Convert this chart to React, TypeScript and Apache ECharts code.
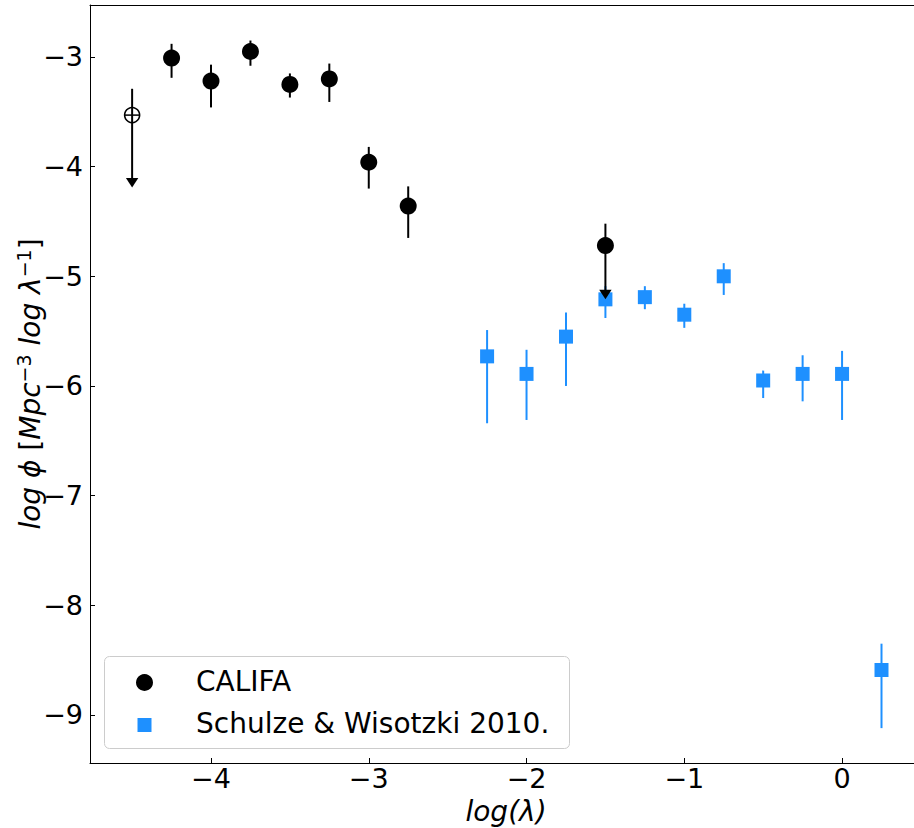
import React, { useEffect, useRef } from "react";
import * as echarts from "echarts";

// CALIFA (detections)
const califaX = [-4.25, -4.0, -3.75, -3.5, -3.25, -3.0, -2.75];
const califaY = [-3.01, -3.22, -2.95, -3.25, -3.2, -3.96, -4.36];
const califaHi = [-2.88, -3.07, -2.85, -3.15, -3.06, -3.82, -4.18];
const califaLo = [-3.19, -3.46, -3.08, -3.37, -3.41, -4.2, -4.65];

// CALIFA upper limits
const limitX = [-4.5, -1.5];
const limitY = [-3.53, -4.72];
const limitTop = [-3.29, -4.52];
const limitTip = [-4.19, -5.21];
const limitOpen = [true, false];

// Schulze & Wisotzki 2010
const swX = [-2.25, -2.0, -1.75, -1.5, -1.25, -1.0, -0.75, -0.5, -0.25, 0.0, 0.25];
const swY = [-5.73, -5.89, -5.55, -5.21, -5.19, -5.35, -5.0, -5.95, -5.89, -5.89, -8.59];
const swHi = [-5.49, -5.67, -5.33, -5.09, -5.09, -5.25, -4.88, -5.86, -5.72, -5.68, -8.35];
const swLo = [-6.34, -6.31, -6.0, -5.38, -5.3, -5.47, -5.17, -6.11, -6.14, -6.31, -9.12];

const xTicks = [-4, -3, -2, -1, 0];
const yTicks = [-9, -8, -7, -6, -5, -4, -3];

const BLUE = "#1e90ff";
const FONT = "DejaVu Sans";

const fmt = (v: number) => (v < 0 ? "\u2212" + Math.abs(v) : String(v));

function errRender(color: string) {
  return (params: any, api: any) => {
    const x = api.value(0);
    const p1 = api.coord([x, api.value(1)]);
    const p2 = api.coord([x, api.value(2)]);
    return {
      type: "line",
      shape: { x1: p1[0], y1: p1[1], x2: p2[0], y2: p2[1] },
      style: { stroke: color, lineWidth: 2 },
    };
  };
}

export default function App() {
  const ref = useRef<HTMLDivElement>(null);
  useEffect(() => {
    if (!ref.current) return;
    const chart = echarts.init(ref.current, undefined, { renderer: "svg" });
    const X_MIN = -4.767;
    const X_MAX = 0.456;
    const option: any = {
      animation: false,
      backgroundColor: "#fff",
      grid: {
        left: 90,
        top: 5,
        right: 0,
        bottom: 65,
        show: false,
      },
      xAxis: [
        {
          type: "value",
          min: X_MIN,
          max: X_MAX,
          splitLine: { show: false },
          axisLine: { show: true, onZero: false, lineStyle: { color: "#000", width: 1 } },
          axisTick: { show: true, inside: true, length: 5, lineStyle: { color: "#000" }, customValues: xTicks },
          axisLabel: {
            customValues: xTicks,
            formatter: fmt,
            fontSize: 27,
            fontFamily: FONT,
            color: "#000",
            margin: 2,
          },
        },
        {
          type: "value",
          position: "top",
          min: X_MIN,
          max: X_MAX,
          splitLine: { show: false },
          axisLine: { show: true, onZero: false, lineStyle: { color: "#000", width: 1 } },
          axisTick: { show: false },
          axisLabel: { show: false },
        },
      ],
      yAxis: {
        type: "value",
        min: -9.438,
        max: -2.526,
        splitLine: { show: false },
        axisLine: { show: true, onZero: false, lineStyle: { color: "#000", width: 1 } },
        axisTick: { show: true, inside: true, length: 5, lineStyle: { color: "#000" }, customValues: yTicks },
        axisLabel: {
          customValues: yTicks,
          formatter: fmt,
          fontSize: 27,
          fontFamily: FONT,
          color: "#000",
          margin: 7,
        },
      },
      series: [
        {
          type: "custom",
          name: "sw-err",
          z: 2,
          renderItem: errRender(BLUE),
          encode: { x: 0, y: [1, 2] },
          data: swX.map((x, i) => [x, swHi[i], swLo[i]]),
        },
        {
          type: "scatter",
          name: "Schulze & Wisotzki 2010.",
          z: 3,
          symbol: "rect",
          symbolSize: 14,
          itemStyle: { color: BLUE, opacity: 1 },
          data: swX.map((x, i) => [x, swY[i]]),
        },
        {
          type: "custom",
          name: "califa-err",
          z: 4,
          renderItem: errRender("#000"),
          encode: { x: 0, y: [1, 2] },
          data: califaX.map((x, i) => [x, califaHi[i], califaLo[i]]),
        },
        {
          type: "custom",
          name: "califa-limits",
          z: 4,
          encode: { x: 0, y: [1, 2, 3] },
          data: limitX.map((x, i) => [x, limitTop[i], limitTip[i], limitY[i], limitOpen[i] ? 1 : 0]),
          renderItem: (params: any, api: any) => {
            const x = api.value(0);
            const top = api.coord([x, api.value(1)]);
            const tip = api.coord([x, api.value(2)]);
            const mid = api.coord([x, api.value(3)]);
            const open = api.value(4) === 1;
            const children: any[] = [
              {
                type: "line",
                shape: { x1: top[0], y1: top[1], x2: tip[0], y2: tip[1] - 8 },
                style: { stroke: "#000", lineWidth: 2 },
              },
              {
                type: "polygon",
                shape: {
                  points: [
                    [tip[0] - 6.2, tip[1] - 9.5],
                    [tip[0] + 6.2, tip[1] - 9.5],
                    [tip[0], tip[1]],
                  ],
                },
                style: { fill: "#000" },
              },
            ];
            if (open) {
              children.push({
                type: "line",
                shape: { x1: mid[0] - 7.5, y1: mid[1], x2: mid[0] + 7.5, y2: mid[1] },
                style: { stroke: "#000", lineWidth: 1.5 },
              });
            }
            return { type: "group", children };
          },
        },
        {
          type: "scatter",
          name: "CALIFA",
          z: 5,
          symbol: "circle",
          symbolSize: 17,
          itemStyle: { color: "#000", opacity: 1 },
          data: califaX.map((x, i) => [x, califaY[i]]),
        },
        {
          type: "scatter",
          name: "CALIFA limits",
          z: 5,
          symbol: "circle",
          itemStyle: { opacity: 1 },
          data: limitX.map((x, i) =>
            limitOpen[i]
              ? {
                  value: [x, limitY[i]],
                  symbolSize: 15,
                  itemStyle: { color: "rgba(0,0,0,0)", borderColor: "#000", borderWidth: 1.6, opacity: 1 },
                }
              : { value: [x, limitY[i]], symbolSize: 17, itemStyle: { color: "#000", opacity: 1 } }
          ),
        },
      ],
      graphic: [
        {
          type: "text",
          x: 506,
          y: 811,
          style: {
            text: "log(λ)",
            font: `italic 28px "${FONT}"`,
            fill: "#000",
            align: "center",
            verticalAlign: "middle",
          },
        },
        {
          type: "text",
          x: 30,
          y: 384,
          rotation: Math.PI / 2,
          style: {
            text: "{i|log ϕ }{n|[}{i|Mpc}{s|−3}{i| log λ}{s|−1}{n|]}",
            align: "center",
            verticalAlign: "middle",
            fill: "#000",
            rich: {
              i: { fontFamily: FONT, fontStyle: "italic", fontSize: 28, fill: "#000", lineHeight: 32 },
              n: { fontFamily: FONT, fontSize: 28, fill: "#000", lineHeight: 32 },
              s: { fontFamily: FONT, fontSize: 19, fill: "#000", verticalAlign: "top", lineHeight: 18 },
            },
          },
        },
        {
          type: "rect",
          shape: { x: 104.5, y: 656.5, width: 465, height: 92, r: 5 },
          style: { fill: "rgba(255,255,255,0.8)", stroke: "#cccccc", lineWidth: 1 },
          z: 100,
        },
        {
          type: "circle",
          shape: { cx: 144.5, cy: 682.5, r: 8.5 },
          style: { fill: "#000" },
          z: 101,
        },
        {
          type: "rect",
          shape: { x: 137.5, y: 718, width: 14, height: 14 },
          style: { fill: BLUE },
          z: 101,
        },
        {
          type: "text",
          x: 196,
          y: 681,
          style: { text: "CALIFA", font: `28px "${FONT}"`, fill: "#000", align: "left", verticalAlign: "middle" },
          z: 101,
        },
        {
          type: "text",
          x: 196,
          y: 723,
          style: {
            text: "Schulze & Wisotzki 2010.",
            font: `28px "${FONT}"`,
            fill: "#000",
            align: "left",
            verticalAlign: "middle",
          },
          z: 101,
        },
      ],
    };
    chart.setOption(option);
    return () => chart.dispose();
  }, []);
  return (
    <div
      ref={ref}
      style={{ position: "fixed", left: 0, top: 0, width: 914, height: 828, background: "#fff" }}
    />
  );
}
